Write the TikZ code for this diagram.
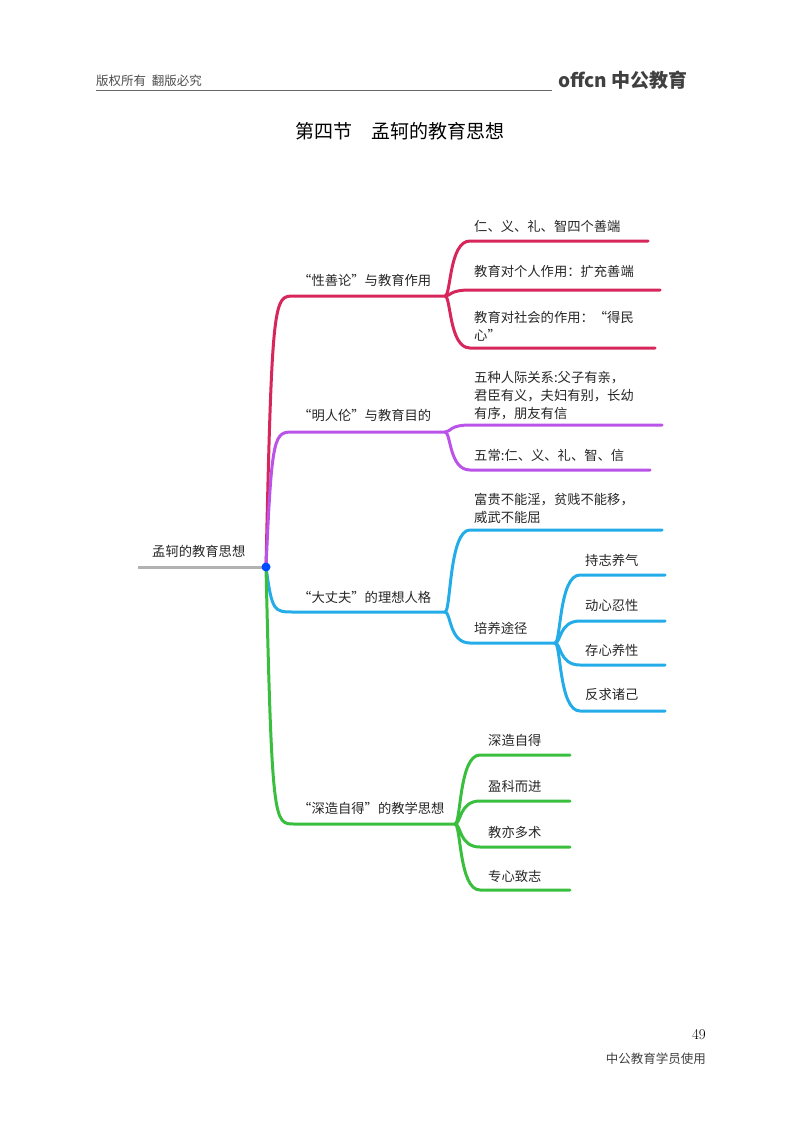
\documentclass[tikz,border=0pt]{standalone}
\usepackage{fontspec}
\newfontfamily\cjk{Noto Sans CJK SC}
\definecolor{cr}{RGB}{214,38,92}
\definecolor{cp}{RGB}{186,84,232}
\definecolor{cb}{RGB}{36,172,232}
\definecolor{cg}{RGB}{58,190,62}
\tikzset{
 t/.style={font=\cjk\fontsize{13.3}{18}\selectfont,anchor=west,inner sep=0pt,align=left,text=black!85},
 br/.style={line width=3pt,line cap=round},
}
\newcommand{\kid}[4]{% color, junction, y, endx
 \draw[br,#1] (#2) .. controls ($(#2)+(6,0)$) and ($(#2)+(4,#3-\jy)$) .. ($(#2)+(25,#3-\jy)$) -- (#4,#3);}
\usetikzlibrary{calc}
\begin{document}
\begin{tikzpicture}[x=1pt,y=-1pt]
\useasboundingbox (0,0) rectangle (800,1124);
% header
\node[t,text=black!70,font=\cjk\fontsize{12.5}{14}\selectfont] (hd) at (96,81) {版权所有\ \ 翻版必究};
\draw[black!60,line width=0.8pt] (96,90) -- (552,90);
\node[anchor=west,inner sep=0pt,text=black!75,font=\cjk\bfseries\fontsize{19}{20}\selectfont] (logo) at (558,80) {offcn 中公教育};
\node[t,anchor=center,font=\cjk\fontsize{19}{22}\selectfont,text=black] (title) at (400,131) {第四节\quad 孟轲的教育思想};
% root
\node[t] (root) at (152,551) {孟轲的教育思想};
\coordinate (c) at (266,567);
\draw[black!30,line width=3pt] (138,567) -- (c);
% main branches
\foreach \col/\y/\e in {cr/296/445,cp/432/445,cb/612/445,cg/824/455}{
 \draw[br,\col] (c) .. controls (272,\y) and (274,\y) .. (294,\y) -- (\e,\y);}
\fill[blue!70!cyan] (c) circle (4.5);
\node[t] (b1) at (298,280) {“性善论”与教育作用};
\node[t] (b2) at (298,415) {“明人伦”与教育目的};
\node[t] (b3) at (298,597) {“大丈夫”的理想人格};
\node[t] (b4) at (298,808) {“深造自得”的教学思想};
% branch 1
\coordinate (j1) at (445,296);
\def\jy{296}
\kid{cr}{j1}{241}{648}\kid{cr}{j1}{290}{660}\kid{cr}{j1}{348}{655}
\node[t] (a1) at (474,226) {仁、义、礼、智四个善端};
\node[t] (a2) at (474,271) {教育对个人作用：扩充善端};
\node[t] (a3) at (474,326) {教育对社会的作用：“得民\\心”};
% branch 2
\coordinate (j2) at (445,432);
\def\jy{432}
\kid{cp}{j2}{425}{662}\kid{cp}{j2}{470}{650}
\node[t] (p1) at (474,396) {五种人际关系:父子有亲，\\君臣有义，夫妇有别，长幼\\有序，朋友有信};
\node[t] (p2) at (474,455) {五常:仁、义、礼、智、信};
% branch 3
\coordinate (j3) at (445,612);
\def\jy{612}
\kid{cb}{j3}{530}{662}\kid{cb}{j3}{643}{555}
\node[t] (q1) at (474,508) {富贵不能淫，贫贱不能移，\\威武不能屈};
\node[t] (q2) at (474,628) {培养途径};
\coordinate (j5) at (555,643);
\def\jy{643}
\kid{cb}{j5}{575}{665}\kid{cb}{j5}{621}{665}\kid{cb}{j5}{665}{665}\kid{cb}{j5}{711}{665}
\node[t] (r1) at (585,560) {持志养气};
\node[t] (r2) at (585,605) {动心忍性};
\node[t] (r3) at (585,650) {存心养性};
\node[t] (r4) at (585,694) {反求诸己};
% branch 4
\coordinate (j4) at (455,824);
\def\jy{824}
\kid{cg}{j4}{755}{570}\kid{cg}{j4}{801}{570}\kid{cg}{j4}{847}{570}\kid{cg}{j4}{890}{570}
\node[t] (g1) at (488,740) {深造自得};
\node[t] (g2) at (488,786) {盈科而进};
\node[t] (g3) at (488,832) {教亦多术};
\node[t] (g4) at (488,876) {专心致志};
% footer
\node[anchor=east,inner sep=0pt,font=\fontsize{15}{16}\selectfont] (pg) at (706,1035) {49};
\node[t,anchor=east,text=black!75,font=\cjk\fontsize{12.5}{14}\selectfont] (ft) at (706,1059) {中公教育学员使用};
\end{tikzpicture}
\end{document}
